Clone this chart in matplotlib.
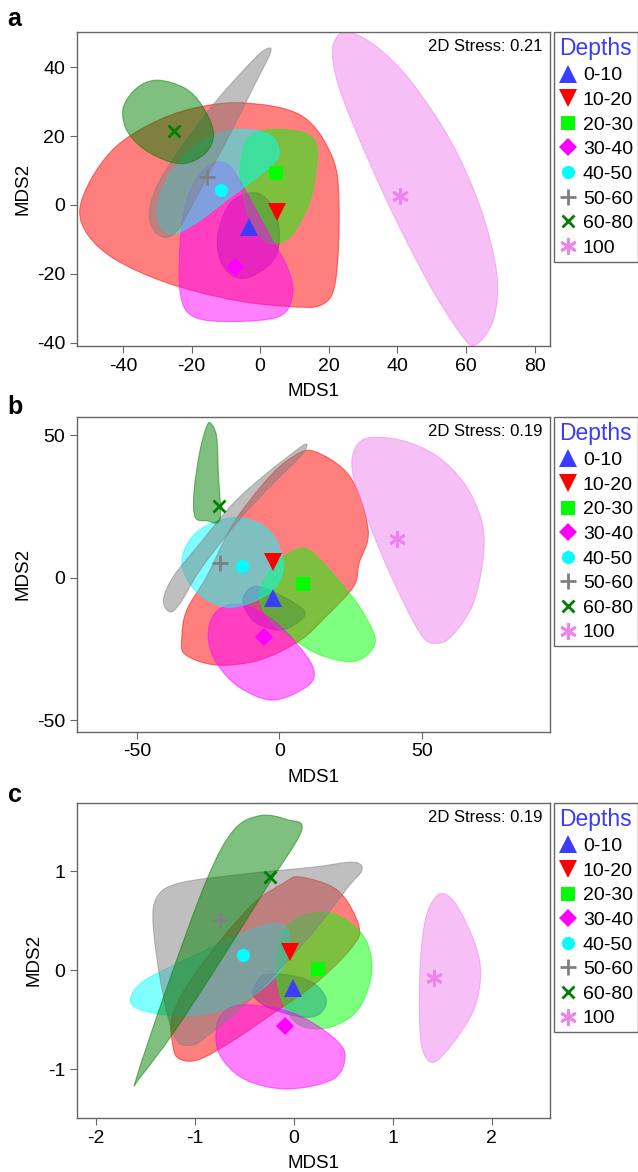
import numpy as np
import matplotlib
matplotlib.use("Agg")
import matplotlib.pyplot as plt
from matplotlib.path import Path
from matplotlib.patches import PathPatch
from matplotlib.lines import Line2D

plt.rcParams['font.family'] = ['Liberation Sans', 'DejaVu Sans']
plt.rcParams['axes.unicode_minus'] = False

depths = ["0-10", "10-20", "20-30", "30-40", "40-50", "50-60", "60-80", "100"]
colors = ["#3c3cff", "#ff0000", "#00ff00", "#ff00ff", "#00ffff", "#808080", "#008000", "#ee82ee"]
markers = ["^", "v", "s", "D", "o", "+", "x", (6, 2, 0)]
msizes = [12.5, 12.5, 10, 9.5, 9.5, 11, 9, 12]
stress = ["0.21", "0.19", "0.19"]

# centroids
a_x = [-3.4, 5.0, 4.7, -7.3, -11.4, -15.5, -25.1, 40.8]
a_y = [-6.3, -1.9, 9.2, -17.9, 4.4, 8.2, 21.5, 2.6]
b_x = [-2.1, -2.1, 8.2, -5.3, -13.2, -20.8, -21.1, 41.2]
b_y = [-7.2, 5.6, -2.2, -20.7, 4.1, 5.1, 25.2, 13.6]
c_x = [-0.01, -0.04, 0.25, -0.09, -0.51, -0.75, -0.24, 1.42]
c_y = [-0.18, 0.18, 0.01, -0.56, 0.15, 0.51, 0.94, -0.08]

# hull outlines (same order as depths)
hulls_a = [
    [(-1.9, 3.6), (2.9, 0.5), (5.6, -7.3), (3.9, -16), (-4.4, -21.3), (-10.7, -17.9), (-12.4, -9.2), (-8.7, 0.5)],
    [(-52.6, -1.5), (-49, 8), (-42, 17), (-32, 23.5), (-20, 28), (-5, 29.7), (12, 26), (21, 14),
     (23, 0), (22, -22), (18, -29), (8, -29.5), (-8, -27.6), (-27, -22.7), (-42, -16), (-50, -9)],
    [(-5.8, 11.1), (-3.9, 18.9), (2.0, 21.8), (11.7, 21.3), (16.0, 18.4), (16.5, 12.1), (14.6, 1.5), (9.7, -8.2),
     (4.9, -11.1), (1.0, -10.2), (-3.4, -3.4), (-5.3, 4.4)],
    [(-12.6, 12.4), (-17.5, 9.2), (-21.4, 1.5), (-23.3, -10.2), (-23.3, -25.7), (-19.4, -32.5), (-7.8, -33.9),
     (5.8, -32.3), (9.5, -25.7), (7.8, -17.9), (1.9, -7.3), (-4.9, 5.3), (-8.7, 11.1)],
    [(5.5, 15.5), (3.9, 12.1), (-1.9, 7.3), (-9.7, 1.5), (-17.5, -4.4), (-24.3, -8.2), (-28.2, -7.3), (-30.1, -2.4),
     (-28.2, 5.3), (-23.3, 13.1), (-15.5, 19.4), (-5.8, 22.0), (2.9, 20.3)],
    [(3.1, 44.6), (-1.9, 34.4), (-9.7, 18.9), (-17.5, 4.4), (-23.3, -6.3), (-27.2, -9.4), (-31.1, -7.3),
     (-32.3, -1.5), (-29.2, 7.3), (-21.4, 18.9), (-12.6, 30.5), (-3.9, 40.2), (1.0, 44.9)],
    [(-40, 28), (-36, 34), (-30, 36.3), (-22, 34), (-17, 29), (-13.6, 21), (-16, 15), (-23, 12), (-32, 15),
     (-38.5, 21)],
    [(26.2, 50.2), (34.0, 46.0), (43.7, 36.3), (55.4, 18.9), (64.1, -0.5), (69.0, -19.9), (68.0, -33.4),
     (62.7, -40.7), (58.3, -37.3), (48.6, -21.8), (35.9, 3.4), (24.3, 30.5), (21.1, 43.1), (22.4, 48.9)],
]
hulls_b = [
    [(-12.5, -6.5), (-8, -3), (2, -7), (9, -12), (6, -16), (0, -18.4), (-8, -16), (-12, -11)],
    [(12, 44.5), (24.8, 35.5), (31.2, 16.8), (28, 5), (26, -3.2), (16, -14), (7.3, -22), (-6.8, -28.9),
     (-22, -30.7), (-33, -27), (-34.2, -20.7), (-32.5, -11.4), (-25.5, 0.4), (-16.1, 19.1), (-4.4, 34.4), (4, 42)],
    [(-6.8, -4.3), (0, 6), (7.3, 10.3), (11.9, 8.6), (20, 0), (28, -10), (33.6, -21), (31, -27), (24.8, -29.5),
     (14, -27), (4, -21), (-4.4, -13.7)],
    [(-17.3, -9.4), (-10, -10.5), (-2, -15), (6, -23), (12, -32), (10, -38), (-2.1, -43), (-14, -38.5),
     (-22, -30), (-25, -21), (-23, -13)],
    [(-34.2, 5.6), (-29, 16), (-16.1, 21.1), (-4, 17), (1.4, 5.1), (-3, -5), (-17.3, -10.4), (-29, -5)],
    [(9.6, 46.1), (7.3, 42.5), (-4.4, 30.8), (-16.1, 17.9), (-27.8, 2.7), (-34.8, -9.0), (-38.4, -12.0),
     (-40.7, -7.8), (-37.2, 0.4), (-27.8, 12.1), (-16.1, 26.2), (-4.4, 36.7), (6.1, 44.9), (9.0, 46.9)],
    [(-24.1, 54.3), (-22, 49.6), (-21.4, 36.7), (-20.8, 20.6), (-25.5, 20.0), (-29.6, 21.4), (-29.9, 30.8),
     (-27.8, 44.9), (-25.5, 53.1)],
    [(30.7, 49), (42.4, 48.4), (55, 43), (65, 33), (71, 20), (71.6, 7.4), (68.1, -9), (61, -20), (55.2, -23.1),
     (49.4, -19.5), (38.8, 1.5), (30.7, 21.4), (26, 35.5), (26, 44)],
]
hulls_c = [
    [(-0.4, -0.17), (-0.3, -0.05), (-0.05, -0.05), (0.2, -0.13), (0.33, -0.3), (0.25, -0.45), (0.05, -0.47),
     (-0.25, -0.38), (-0.4, -0.27)],
    [(0.07, 0.94), (0.45, 0.8), (0.66, 0.44), (0.58, 0.22), (0.2, -0.15), (-0.3, -0.5), (-0.61, -0.71),
     (-0.95, -0.9), (-1.15, -0.9), (-1.22, -0.77), (-1.22, -0.44), (-0.95, 0.03), (-0.44, 0.64), (-0.1, 0.88)],
    [(0.79, 0), (0.7, 0.35), (0.4, 0.57), (0.1, 0.55), (-0.1, 0.4), (-0.18, 0.05), (-0.12, -0.3), (0.05, -0.55),
     (0.35, -0.58), (0.65, -0.4)],
    [(-0.54, -0.35), (-0.2, -0.38), (0.1, -0.48), (0.4, -0.68), (0.52, -0.86), (0.4, -1.1), (-0.07, -1.2),
     (-0.5, -1.1), (-0.75, -0.85), (-0.78, -0.57), (-0.7, -0.42)],
    [(-1.65, -0.29), (-1.5, -0.1), (-1.0, 0.15), (-0.5, 0.38), (-0.2, 0.47), (-0.05, 0.38), (-0.1, 0.05),
     (-0.4, -0.25), (-0.8, -0.42), (-1.2, -0.46), (-1.55, -0.4)],
    [(-1.38, 0.74), (-1.15, 0.88), (-0.5, 0.97), (0.2, 1.04), (0.6, 1.09), (0.69, 1.01), (0.55, 0.84), (0.3, 0.51),
     (0.07, 0.24), (-0.41, -0.27), (-0.88, -0.67), (-1.05, -0.76), (-1.2, -0.68), (-1.33, -0.2), (-1.42, 0.45)],
    [(-1.59, -1.09), (-1.28, -0.17), (-0.88, 0.91), (-0.61, 1.41), (-0.34, 1.56), (-0.07, 1.52), (0.08, 1.41),
     (-0.27, 0.84), (-0.78, 0.03), (-1.22, -0.64), (-1.55, -1.08)],
    [(1.52, 0.77), (1.65, 0.65), (1.82, 0.3), (1.89, -0.03), (1.82, -0.4), (1.6, -0.75), (1.41, -0.93),
     (1.3, -0.8), (1.27, -0.44), (1.28, 0.1), (1.33, 0.51), (1.42, 0.72)],
]


def smooth_path(pts):   # closed catmull-rom -> bezier
    pts = np.asarray(pts, dtype=float)
    n = len(pts)
    verts = [pts[0]]
    codes = [Path.MOVETO]
    for i in range(n):
        p0, p1, p2, p3 = pts[i - 1], pts[i], pts[(i + 1) % n], pts[(i + 2) % n]
        verts += [p1 + (p2 - p0) / 6, p2 - (p3 - p1) / 6, p2]
        codes += [Path.CURVE4] * 3
    return Path(verts, codes)


def marker_style(i):
    if markers[i] in ["+", "x"] or isinstance(markers[i], tuple):
        return dict(marker=markers[i], color=colors[i], ms=msizes[i], mew=2, ls="none")
    return dict(marker=markers[i], color=colors[i], ms=msizes[i], mew=0, ls="none")


def draw_panel(ax, xs, ys, hulls, xlim, ylim, xticks, yticks, st):
    for i in range(len(depths)):
        ax.add_patch(PathPatch(smooth_path(hulls[i]), facecolor=colors[i], alpha=0.5,
                               edgecolor=colors[i], lw=0.8, zorder=1 + i * 0.1))
    for i in range(len(depths)):
        ax.plot(xs[i], ys[i], zorder=5, **marker_style(i))
    ax.set_xlim(xlim)
    ax.set_ylim(ylim)
    ax.set_xticks(xticks)
    ax.set_yticks(yticks)
    ax.tick_params(labelsize=14, length=5, color="#666666", direction="out")
    for s in ax.spines.values():
        s.set_color("#666666")
        s.set_linewidth(1.0)
    ax.set_xlabel("MDS1", fontsize=13.5, labelpad=6)
    ax.set_ylabel("MDS2", fontsize=13.5, labelpad=4)
    ax.text(0.985, 0.978, "2D Stress: " + st, transform=ax.transAxes, ha="right", va="top", fontsize=12)
    handles = [Line2D([], [], **marker_style(i)) for i in range(len(depths))]
    leg = ax.legend(handles, depths, title="Depths", loc="upper left", bbox_to_anchor=(1.008, 1.0),
                    borderaxespad=0, fontsize=14, title_fontsize=16.5, fancybox=False, framealpha=1,
                    edgecolor="#666666", handletextpad=0.25, labelspacing=0.36, handlelength=1.0,
                    borderpad=0.25, alignment="left")
    leg.get_title().set_color("#3a3aff")
    leg.get_frame().set_linewidth(1.0)


fig = plt.figure(figsize=(6.38, 11.72), dpi=100)
ax1 = fig.add_axes([0.1207, 0.7048, 0.7414, 0.2679])
ax2 = fig.add_axes([0.1207, 0.3757, 0.7414, 0.2688])
ax3 = fig.add_axes([0.1207, 0.0463, 0.7414, 0.2688])

draw_panel(ax1, a_x, a_y, hulls_a, (-53.4, 84.5), (-41, 50.3), [-40, -20, 0, 20, 40, 60, 80], [-40, -20, 0, 20, 40], stress[0])
draw_panel(ax2, b_x, b_y, hulls_b, (-71, 95), (-54.1, 56.6), [-50, 0, 50], [-50, 0, 50], stress[1])
draw_panel(ax3, c_x, c_y, hulls_c, (-2.19, 2.59), (-1.49, 1.69), [-2, -1, 0, 1, 2], [-1, 0, 1], stress[2])

for lab, y in zip(["a", "b", "c"], [0.984, 0.653, 0.322]):
    fig.text(0.012, y, lab, fontsize=18, fontweight="bold", va="center")

fig.savefig("out.png", dpi=100)
